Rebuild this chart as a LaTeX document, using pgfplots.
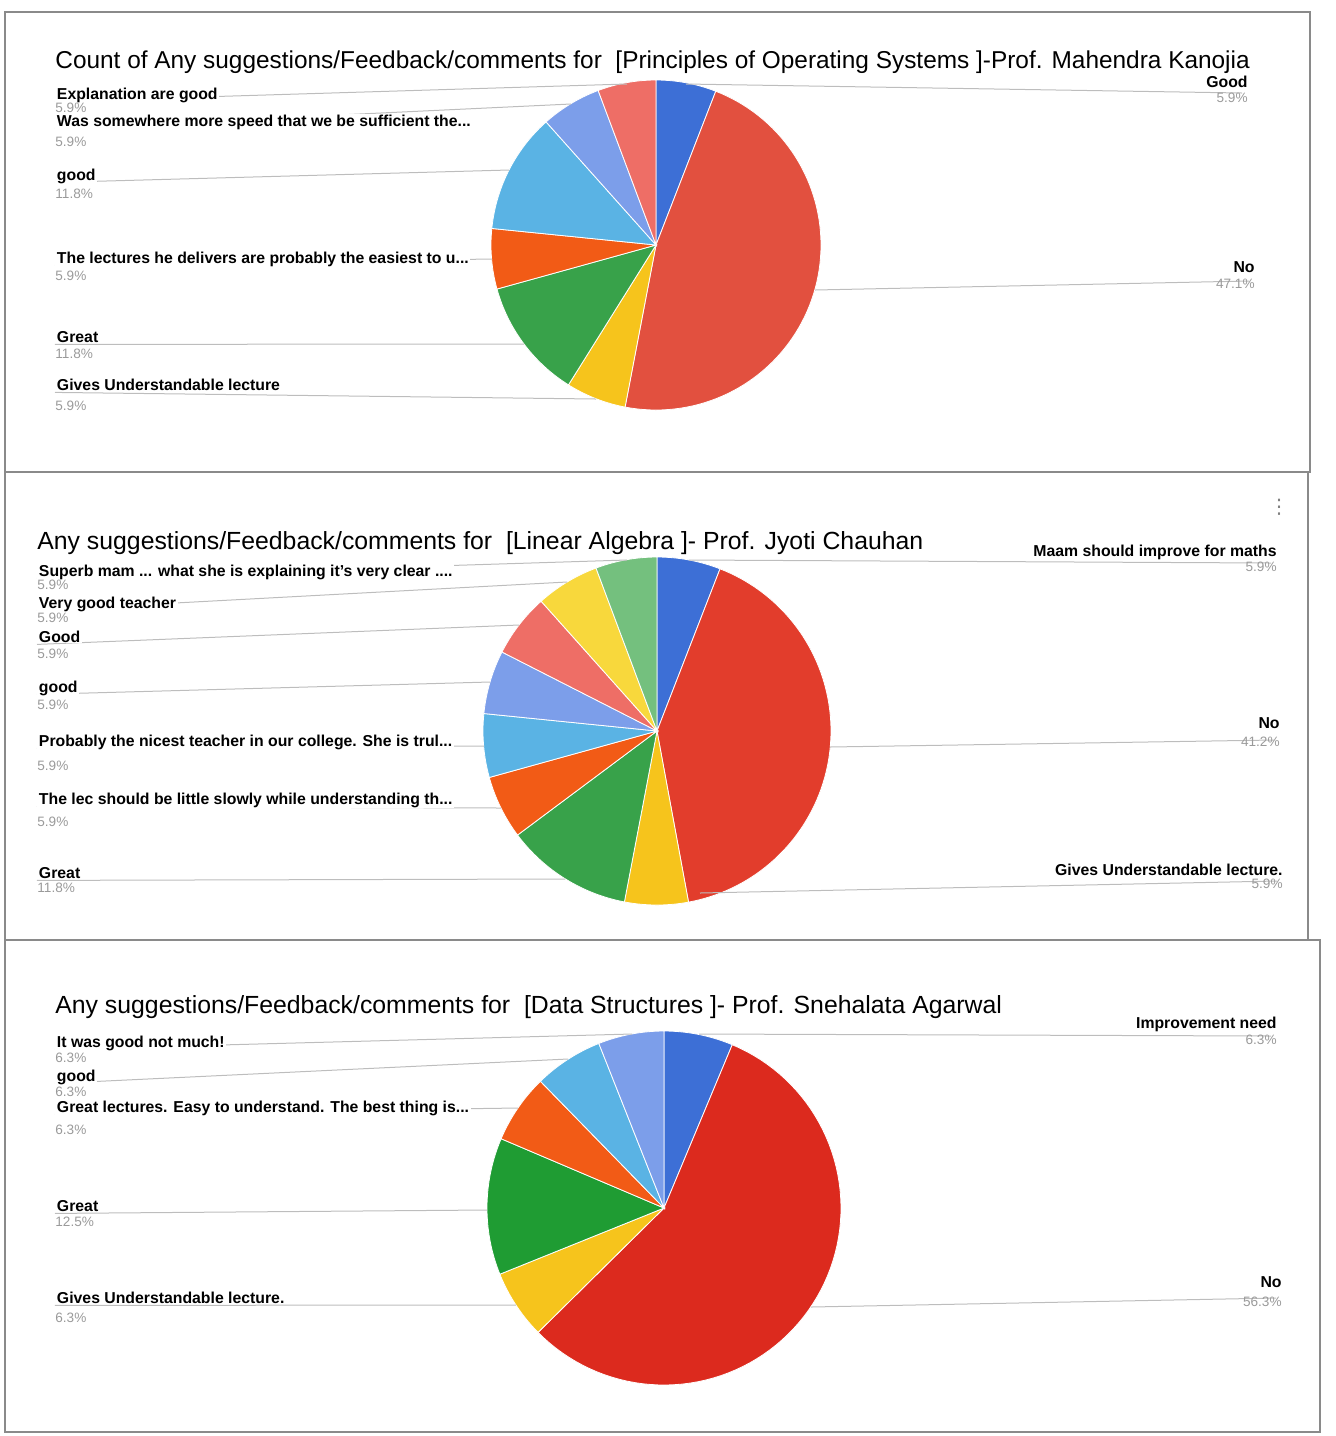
\documentclass[border=0pt]{standalone}
\usepackage{fontspec}
\setmainfont{Liberation Sans}
\newfontfamily\dejavu{DejaVu Sans}
\usepackage{pgfplots}
\pgfplotsset{compat=1.18}
\definecolor{cBlue}{HTML}{3D6FD6}
\definecolor{cRedA}{HTML}{E2503F}
\definecolor{cRedB}{HTML}{E23D2C}
\definecolor{cRedC}{HTML}{DC2A1E}
\definecolor{cYellow}{HTML}{F6C41C}
\definecolor{cGreen}{HTML}{38A24A}
\definecolor{cGreenC}{HTML}{1F9C33}
\definecolor{cOrange}{HTML}{F25B16}
\definecolor{cLBlue}{HTML}{5AB3E4}
\definecolor{cPurple}{HTML}{7C9EEA}
\definecolor{cSalmon}{HTML}{EE6E66}
\definecolor{cLYellow}{HTML}{F8D83C}
\definecolor{cLGreen}{HTML}{74C07E}
\definecolor{pctgray}{HTML}{9A9A9A}
\definecolor{linegray}{HTML}{BDBDBD}
\definecolor{framegray}{HTML}{8A8A8A}
\newcommand{\titlefont}{\fontsize{12.4}{14}\selectfont}
\newcommand{\lblfont}{\fontsize{7.9}{9}\selectfont\bfseries}
\newcommand{\pctfont}{\fontsize{6.8}{8}\selectfont}
% slice: cx, cy, r, start%, end%, colour
\newcommand{\slice}[6]{\addplot[fill=#6, draw=white, line width=0.4pt, domain=#4:#5, samples=80, variable=\t] ({#1+#3*sin(3.6*\t)},{#2-#3*cos(3.6*\t)}) -- (axis cs:#1,#2) -- cycle;}
% left label: x, y, text, pct, pct y, pie x, pie y
\newcommand{\leftlab}[7]{%
  \draw[linegray, line width=0.5pt] ([yshift=-1.2pt]axis cs:#1,#2) -- (axis cs:#6,#7);
  \node[anchor=base west, font=\lblfont, fill=white, inner xsep=0.8pt, inner ysep=0.2pt] at (axis cs:#1,#2) {#3};
  \node[anchor=base west, font=\pctfont, text=pctgray, inner sep=0pt] at (axis cs:#1,#5) {#4};}
% right label: x, y, text, pct, pct y, pie x, pie y, line y
\newcommand{\rightlab}[8]{%
  \draw[linegray, line width=0.5pt] (axis cs:#6,#7) -- (axis cs:#1-6,#8);
  \node[anchor=base east, font=\lblfont, inner sep=0pt] at (axis cs:#1,#2) {#3};
  \node[anchor=base east, font=\pctfont, text=pctgray, inner sep=0pt] at (axis cs:#1,#5) {#4};}
\pgfplotsset{panel/.style={scale only axis, axis line style={draw=framegray, line width=0.9pt},
  xtick=\empty, ytick=\empty, y dir=reverse, clip=false, anchor=north west}}
\begin{document}
\begin{tikzpicture}
\path[use as bounding box] (0,0) rectangle (667.5pt,-718pt);
% ---------------- Panel 1 ----------------
\begin{axis}[panel, xmin=5, xmax=1310, ymin=12, ymax=472, width=652.5pt, height=230pt, at={(2.5pt,-6pt)}]
\slice{656}{245}{165}{0}{5.9}{cBlue}
\slice{656}{245}{165}{5.9}{53.0}{cRedA}
\slice{656}{245}{165}{53.0}{58.9}{cYellow}
\slice{656}{245}{165}{58.9}{70.7}{cGreen}
\slice{656}{245}{165}{70.7}{76.6}{cOrange}
\slice{656}{245}{165}{76.6}{88.4}{cLBlue}
\slice{656}{245}{165}{88.4}{94.3}{cPurple}
\slice{656}{245}{165}{94.3}{100}{cSalmon}
\node[anchor=base west, font=\fontsize{12.2}{14}\selectfont, inner sep=0pt] at (axis cs:55,68) {Count of Any suggestions/Feedback/comments for \ [Principles of Operating Systems ]-Prof. Mahendra Kanojia};
\leftlab{55}{99}{Explanation are good}{5.9\%}{112}{627}{84}
\leftlab{55}{126}{Was somewhere more speed that we be sufficient the...}{5.9\%}{146}{571}{104}
\leftlab{55}{180}{good}{11.8\%}{198}{509}{170}
\leftlab{55}{263}{The lectures he delivers are probably the easiest to u...}{5.9\%}{280}{492}{259}
\leftlab{55}{342}{Great}{11.8\%}{358}{524}{344}
\leftlab{55}{390}{Gives Understandable lecture}{5.9\%}{410}{596}{399}
\rightlab{1248}{87}{Good}{5.9\%}{102}{686}{84}{93}
\rightlab{1255}{272}{No}{47.1\%}{288}{815}{290}{281}
\end{axis}
% ---------------- Panel 2 ----------------
\begin{axis}[panel, xmin=5, xmax=1308, ymin=472, ymax=940, width=651.5pt, height=234pt, at={(2.5pt,-236pt)}]
\slice{657}{731}{174}{0}{5.9}{cBlue}
\slice{657}{731}{174}{5.9}{47.1}{cRedB}
\slice{657}{731}{174}{47.1}{53.0}{cYellow}
\slice{657}{731}{174}{53.0}{64.8}{cGreen}
\slice{657}{731}{174}{64.8}{70.7}{cOrange}
\slice{657}{731}{174}{70.7}{76.6}{cLBlue}
\slice{657}{731}{174}{76.6}{82.5}{cPurple}
\slice{657}{731}{174}{82.5}{88.4}{cSalmon}
\slice{657}{731}{174}{88.4}{94.3}{cLYellow}
\slice{657}{731}{174}{94.3}{100}{cLGreen}
\node[anchor=base west, font=\titlefont, inner sep=0pt] at (axis cs:37,549) {Any suggestions/Feedback/comments for \ [Linear Algebra ]- Prof. Jyoti Chauhan};
\node[font=\dejavu\fontsize{10}{10}\selectfont, text=gray, inner sep=0pt] at (axis cs:1279,507) {⋮};
\leftlab{37}{576}{Superb mam ... what she is explaining it's very clear ....}{5.9\%}{589}{627}{560}
\leftlab{37}{608}{Very good teacher}{5.9\%}{622}{567}{582}
\leftlab{37}{642}{Good}{5.9\%}{658}{519}{625}
\leftlab{37}{692}{good}{5.9\%}{709}{490}{682}
\leftlab{37}{746}{Probably the nicest teacher in our college. She is trul...}{5.9\%}{770}{484}{746}
\leftlab{37}{804}{The lec should be little slowly while understanding th...}{5.9\%}{826}{501}{808}
\leftlab{37}{878}{Great}{11.8\%}{892}{565}{879}
\rightlab{1277}{556}{Maam should improve for maths}{5.9\%}{571}{689}{560}{563}
\rightlab{1280}{728}{No}{41.2\%}{746}{830}{747}{740}
\rightlab{1283}{875}{Gives Understandable lecture.}{5.9\%}{888}{700}{893}{881}
\end{axis}
% ---------------- Panel 3 ----------------
\begin{axis}[panel, xmin=5, xmax=1320, ymin=940, ymax=1432, width=657.5pt, height=246pt, at={(2.5pt,-470pt)}]
\slice{664}{1208}{177}{0}{6.3}{cBlue}
\slice{664}{1208}{177}{6.3}{62.6}{cRedC}
\slice{664}{1208}{177}{62.6}{68.9}{cYellow}
\slice{664}{1208}{177}{68.9}{81.4}{cGreenC}
\slice{664}{1208}{177}{81.4}{87.7}{cOrange}
\slice{664}{1208}{177}{87.7}{94.0}{cLBlue}
\slice{664}{1208}{177}{94.0}{100}{cPurple}
\node[anchor=base west, font=\titlefont, inner sep=0pt] at (axis cs:55,1013) {Any suggestions/Feedback/comments for \ [Data Structures ]- Prof. Snehalata Agarwal};
\leftlab{55}{1047}{It was good not much!}{6.3\%}{1062}{632}{1034}
\leftlab{55}{1081}{good}{6.3\%}{1096}{568}{1059}
\leftlab{55}{1112}{Great lectures. Easy to understand. The best thing is...}{6.3\%}{1134}{518}{1108}
\leftlab{55}{1211}{Great}{12.5\%}{1226}{487}{1210}
\leftlab{55}{1303}{Gives Understandable lecture.}{6.3\%}{1322}{516}{1305}
\rightlab{1277}{1028}{Improvement need}{6.3\%}{1044}{699}{1034}{1036}
\rightlab{1282}{1287}{No}{56.3\%}{1306}{811}{1307}{1298}
\end{axis}
\end{tikzpicture}
\end{document}
